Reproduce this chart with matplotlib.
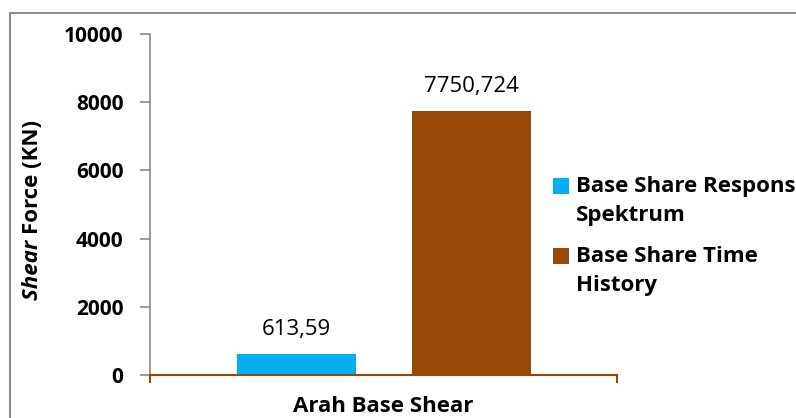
import textwrap
import matplotlib
matplotlib.use("Agg")
import matplotlib.pyplot as plt
from matplotlib.patches import Rectangle, Patch
from matplotlib.legend_handler import HandlerPatch

categories = ["Arah Base Shear"]
series_names = ["Base Share Respons Spektrum", "Base Share Time History"]
series_values = [[613.59], [7750.724]]
value_labels = ["613,59", "7750,724"]
colors = ["#00B0F0", "#984807"]
y_ticks = [0, 2000, 4000, 6000, 8000, 10000]

W, H = 796, 418
plt.rcParams['font.family'] = ['Open Sans', 'DejaVu Sans']
fig = plt.figure(figsize=(W / 100, H / 100), dpi=100)

ax = fig.add_axes([150 / W, 1 - 375 / H, (617 - 150) / W, (375 - 34) / H])

# outer chart border
fig.patches.append(Rectangle((10 / W, -0.1), 1.0, 1.1 - 13 / H, transform=fig.transFigure,
                             fill=False, edgecolor="#8c8c8c", linewidth=1.5, clip_on=False))

n = len(series_names)
bar_w = 119 / 467
offset = 175 / 467
for i, (name, vals) in enumerate(zip(series_names, series_values)):
    xs = [c + (i - (n - 1) / 2) * offset for c in range(len(categories))]
    bars = ax.bar(xs, vals, width=bar_w, color=colors[i], label=name, zorder=2)
    for b in bars:
        ax.annotate(value_labels[i], (b.get_x() + b.get_width() / 2, b.get_height()),
                    xytext=(0, 13.5), textcoords="offset points", ha="center", va="baseline",
                    fontsize=16, color="black")

ax.set_xlim(-0.5, len(categories) - 0.5)
ax.set_ylim(0, 10000)
ax.set_yticks(y_ticks)
ax.set_yticklabels([str(t) for t in y_ticks], fontsize=15, fontweight="bold")
ax.tick_params(axis="y", direction="out", length=7, width=1.2, color="#8c8c8c", pad=12)
ax.set_xticks([-0.5, len(categories) - 0.5])
ax.set_xticklabels(["", ""])
ax.tick_params(axis="x", direction="out", length=6, width=1.5, color="#984807")
for s in ["top", "right"]:
    ax.spines[s].set_visible(False)
ax.spines["left"].set_color("#8c8c8c")
ax.spines["left"].set_linewidth(1.2)
ax.spines["bottom"].set_color("#984807")
ax.spines["bottom"].set_linewidth(1.5)
ax.spines["bottom"].set_zorder(3)

# category label below axis
fig.text(383 / W, 1 - 412 / H, categories[0], ha="center", va="baseline",
         fontsize=16, fontweight="bold")

# y label with italic "Shear"
yl_x, yl_y = 32 / W, 1 - 234 / H
fig.text(yl_x, yl_y, "Shear ", rotation=90, rotation_mode="anchor", ha="right", va="center",
         fontsize=16, fontweight="bold", fontstyle="italic")
fig.text(yl_x, yl_y, "Force (KN)", rotation=90, rotation_mode="anchor", ha="left", va="center",
         fontsize=16, fontweight="bold")


def top_square(legend, orig_handle, xdescent, ydescent, width, height, fontsize):
    # align the square with the first line of a two-line label
    return Rectangle((-xdescent, -ydescent + 10.8), width, height)


handles = [Patch(facecolor=c) for c in colors]
labels = [textwrap.fill(s, 18) for s in series_names]
leg = fig.legend(handles, labels, loc="upper left", bbox_to_anchor=(553 / W, 1 - 176 / H),
                 frameon=False, prop={"size": 16, "weight": "bold"},
                 handlelength=0.72, handleheight=0.72, handletextpad=0.3, labelspacing=0.9,
                 borderpad=0, borderaxespad=0,
                 handler_map={Patch: HandlerPatch(patch_func=top_square)})
for t in leg.get_texts():
    t.set_linespacing(1.5)

fig.savefig("out.png", dpi=100)
